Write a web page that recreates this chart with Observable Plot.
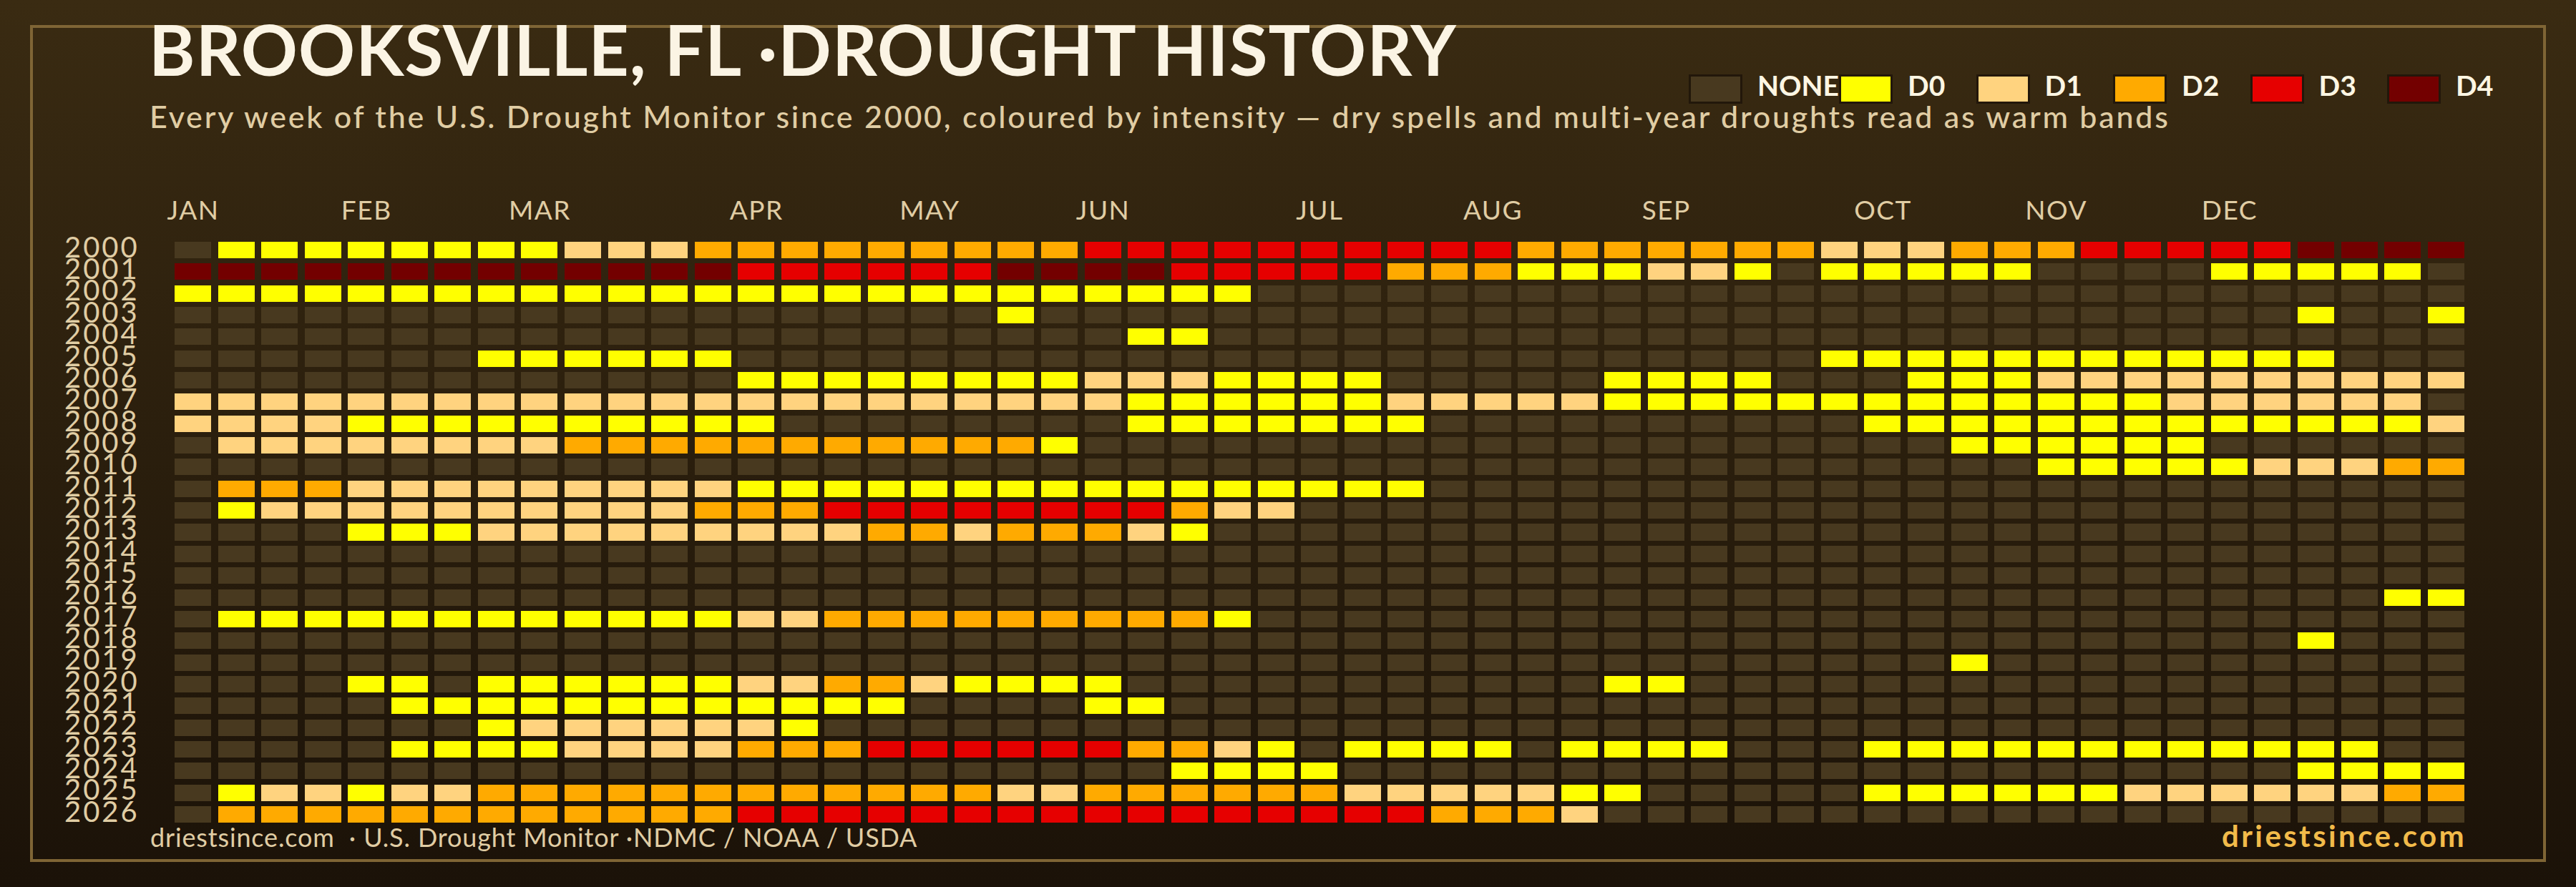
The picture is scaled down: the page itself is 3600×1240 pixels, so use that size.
<!DOCTYPE html>
<html>
<head>
<meta charset="utf-8">
<script src="https://cdn.jsdelivr.net/npm/d3@7"></script>
<script src="https://cdn.jsdelivr.net/npm/@observablehq/plot@0.6"></script>
<style>
  html, body { margin: 0; padding: 0; }
  body {
    width: 3600px; height: 1240px; position: relative; overflow: hidden;
    background: linear-gradient(180deg, #3a2b12 0%, #1b1208 100%);
    font-family: Lato, "Noto Sans", sans-serif;
  }
  .frame { position: absolute; left: 42px; top: 35px; width: 3516px; height: 1170px; box-sizing: border-box; border: 4px solid #7f6535; }
  .t { position: absolute; white-space: nowrap; line-height: 1; margin: 0; }
  #title { left: 208px; top: 19px; font-size: 98px; font-weight: 700; color: #fbf4e4; letter-spacing: 1.1px; }
  #subtitle { left: 209px; top: 141px; font-size: 43px; font-weight: 500; color: #e0cda4; letter-spacing: 2.76px; }
  #legend { position: absolute; left: 2360px; top: 104px; display: flex; }
  .item { display: flex; align-items: flex-start; }
  .swatch { width: 75px; height: 41px; box-sizing: border-box; border: 3px solid #22170a; }
  .lab { margin-left: 21px; width: 95.5px; font-size: 39px; font-weight: 700; color: #fdf6e3; line-height: 1; margin-top: -4px; }
  .item:first-child .lab { width: 114px; }
  #chart { position: absolute; left: 0; top: 260px; }
  #chart svg { display: block; overflow: visible; background: transparent; }
  #chart svg g[aria-label="y-axis tick label"] { letter-spacing: 3px; }
  #chart svg g[aria-label="x-axis tick label"] { letter-spacing: 1.5px; }
  #source { left: 210px; top: 1152px; font-size: 36px; color: #e0cda4; letter-spacing: 0.85px; }
  #brand { right: 153px; top: 1147px; font-size: 42px; font-weight: 700; color: #f2bb4a; letter-spacing: 3.4px; }
</style>
</head>
<body>
<div class="frame"></div>
<h1 class="t" id="title"></h1>
<p class="t" id="subtitle"></p>
<div id="legend"></div>
<div id="chart"></div>
<div class="t" id="source"></div>
<div class="t" id="brand"></div>
<script>
const titleText = "BROOKSVILLE, FL ·DROUGHT HISTORY";
const subtitleText = "Every week of the U.S. Drought Monitor since 2000, coloured by intensity — dry spells and multi-year droughts read as warm bands";
const sourceText = "driestsince.com \u00a0· U.S. Drought Monitor ·NDMC / NOAA / USDA";
const brandText = "driestsince.com";

const levelNames = ["NONE", "D0", "D1", "D2", "D3", "D4"];
const levelColors = ["#48391f", "#ffff00", "#ffd37f", "#ffaa00", "#e60000", "#730000"];

const monthNames = ["JAN","FEB","MAR","APR","MAY","JUN","JUL","AUG","SEP","OCT","NOV","DEC"];
const monthWeeks = [0, 4, 8, 13, 17, 21, 26, 30, 34, 39, 43, 47];

const years = [2000,2001,2002,2003,2004,2005,2006,2007,2008,2009,2010,2011,2012,2013,2014,2015,2016,2017,2018,2019,2020,2021,2022,2023,2024,2025,2026];

// one code per week: index into levelNames
const weekCodes = [
  "0111111112223333 33333444444444433333 33222333444445555",
  "5555555555555444 44455554444433311122 10111110000111110",
  "1111111111111111 11111111100000000000 00000000000000000",
  "0000000000000000 00010000000000000000 00000000000001001",
  "0000000000000000 00000011000000000000 00000000000000000",
  "0000000111111000 00000000000000000000 00111111111111000",
  "0000000000000111 11111222111100000111 10001112222222222",
  "2222222222222222 22222211111122222111 11111111112222220",
  "2222111111111100 00000011111110000000 00011111111111112",
  "0222222223333333 33331000000000000000 00000111111000000",
  "0000000000000000 00000000000000000000 00000001111122233",
  "0333222222222111 11111111111110000000 00000000000000000",
  "0122222222223334 44444443220000000000 00000000000000000",
  "0000111222222222 33233321000000000000 00000000000000000",
  "0000000000000000 00000000000000000000 00000000000000000",
  "0000000000000000 00000000000000000000 00000000000000000",
  "0000000000000000 00000000000000000000 00000000000000011",
  "0111111111111223 33333333100000000000 00000000000000000",
  "0000000000000000 00000000000000000000 00000000000001000",
  "0000000000000000 00000000000000000000 00000100000000000",
  "0000110111111223 32111100000000000110 00000000000000000",
  "0000011111111111 10000110000000000000 00000000000000000",
  "0000000122222210 00000000000000000000 00000000000000000",
  "0000011112222333 44444433210111101111 00011111111111100",
  "0000000000000000 00000001111000000000 00000000000001111",
  "0122122333333333 33322333333222221100 00011111122222233",
  "0333333333333444 44444444444443332000 00000000000000000"
];

const cells = years.flatMap((year, r) =>
  Array.from(weekCodes[r].replace(/ /g, ""), (c, week) => ({ year, week, level: levelNames[+c] }))
);

const stepInsetX = 4.77, stepInsetY = 3.67;

const plot = Plot.plot({
  width: 3600,
  height: 896,
  marginLeft: 239.25,
  marginRight: 151.6,
  marginTop: 74.3,
  marginBottom: 2.3,
  style: { background: "transparent", color: "#e0cda4", fontFamily: 'Lato, "Noto Sans", sans-serif' },
  x: { type: "band", domain: d3.range(53), padding: 0, round: false, axis: null },
  y: { type: "band", domain: years, padding: 0, round: false, axis: null },
  color: { type: "ordinal", domain: levelNames, range: levelColors },
  marks: [
    Plot.cell(cells, {
      x: "week", y: "year", fill: "level",
      insetLeft: stepInsetX, insetRight: stepInsetX,
      insetTop: stepInsetY, insetBottom: stepInsetY,
      shapeRendering: "crispEdges"
    }),
    Plot.axisX({
      anchor: "top", ticks: monthWeeks, tickSize: 0, tickPadding: 28, label: null,
      tickFormat: (w) => monthNames[monthWeeks.indexOf(w)],
      fontSize: 37
    }),
    Plot.axisY({
      anchor: "left", tickSize: 0, tickPadding: 45, label: null, dy: -3,
      tickFormat: (y) => String(y),
      fontSize: 40
    })
  ]
});

document.getElementById("chart").append(plot);
document.getElementById("title").textContent = titleText;
document.getElementById("subtitle").textContent = subtitleText;
document.getElementById("source").textContent = sourceText;
document.getElementById("brand").textContent = brandText;

const legend = document.getElementById("legend");
levelNames.forEach((name, i) => {
  const item = document.createElement("div"); item.className = "item";
  const sw = document.createElement("div"); sw.className = "swatch"; sw.style.background = levelColors[i];
  const lab = document.createElement("div"); lab.className = "lab"; lab.textContent = name;
  item.append(sw, lab); legend.append(item);
});
</script>
</body>
</html>
